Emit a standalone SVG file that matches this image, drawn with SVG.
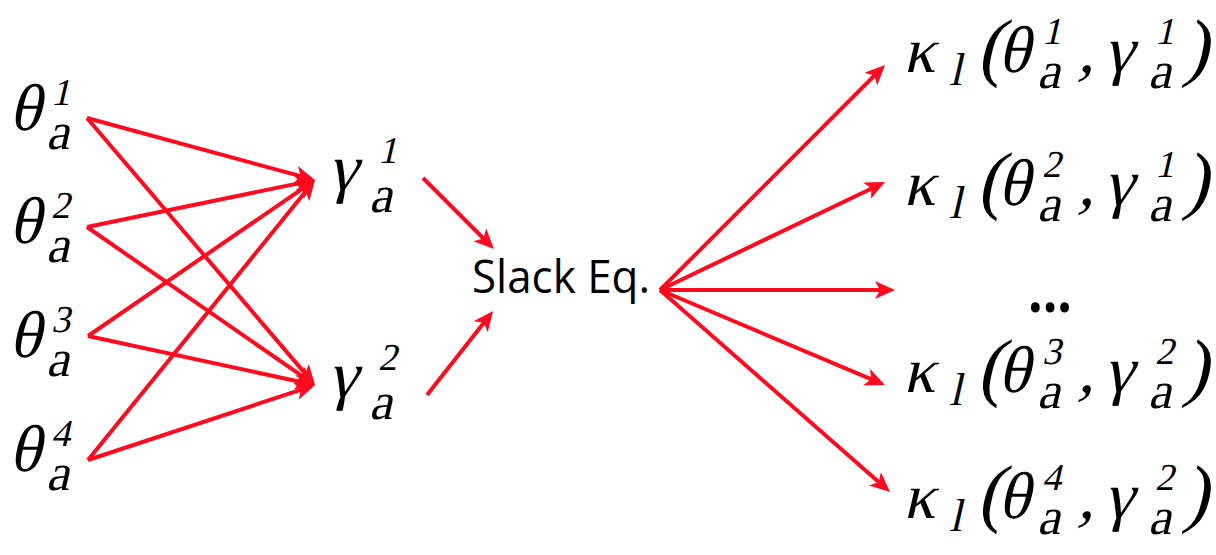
<svg xmlns="http://www.w3.org/2000/svg" width="1216" height="555" viewBox="0 0 1216 555">
<defs>
<marker id="ah" markerUnits="userSpaceOnUse" viewBox="0 0 20 18" markerWidth="20" markerHeight="18" refX="8" refY="9" orient="auto">
<path d="M0,0 L20,9 L0,18 L5,9 z" fill="#FF0A1E"/>
</marker>
<style>
.e{stroke:#FF0A1E;stroke-width:4;fill:none;marker-end:url(#ah)}
</style>
</defs>
<rect width="1216" height="555" fill="#fff"/>
<g id="connectors">
<line class="e" x1="87" y1="118" x2="303.4" y2="176.9"/>
<line class="e" x1="87" y1="118" x2="307.2" y2="375.9"/>
<line class="e" x1="87" y1="227" x2="303.3" y2="182.4"/>
<line class="e" x1="87" y1="227" x2="305.1" y2="378.2"/>
<line class="e" x1="88" y1="336" x2="305.1" y2="186.8"/>
<line class="e" x1="88" y1="336" x2="303.3" y2="382.5"/>
<line class="e" x1="88" y1="460" x2="307.4" y2="189.3"/>
<line class="e" x1="88" y1="460" x2="303.6" y2="388.8"/>
<line class="e" x1="423" y1="178" x2="485.5" y2="240.5"/>
<line class="e" x1="427" y1="395" x2="485.6" y2="320.4"/>
<line class="e" x1="660" y1="290" x2="876.5" y2="73.5"/>
<line class="e" x1="660" y1="290" x2="874.2" y2="187.2"/>
<line class="e" x1="660" y1="290" x2="883" y2="290"/>
<line class="e" x1="660" y1="290" x2="873.9" y2="380.3"/>
<line class="e" x1="660" y1="290" x2="881" y2="484.1"/>
</g>
<g id="theta1"><text style="font-family:'Liberation Serif'" fill="#000" transform="translate(9,130) skewX(-13)"><tspan font-size="66" x="0" y="0">θ</tspan><tspan font-size="38" x="36.2" y="-25">1</tspan><tspan font-size="52" x="41.4" y="19">a</tspan></text></g>
<g id="theta2"><text style="font-family:'Liberation Serif'" fill="#000" transform="translate(9,243) skewX(-13)"><tspan font-size="66" x="0" y="0">θ</tspan><tspan font-size="38" x="36.2" y="-25">2</tspan><tspan font-size="52" x="41.4" y="19">a</tspan></text></g>
<g id="theta3"><text style="font-family:'Liberation Serif'" fill="#000" transform="translate(9,357) skewX(-13)"><tspan font-size="66" x="0" y="0">θ</tspan><tspan font-size="38" x="36.2" y="-25">3</tspan><tspan font-size="52" x="41.4" y="19">a</tspan></text></g>
<g id="theta4"><text style="font-family:'Liberation Serif'" fill="#000" transform="translate(9,471) skewX(-13)"><tspan font-size="66" x="0" y="0">θ</tspan><tspan font-size="38" x="36.2" y="-25">4</tspan><tspan font-size="52" x="41.4" y="19">a</tspan></text></g>
<g id="gamma1"><text style="font-family:'Liberation Serif'" fill="#000" transform="translate(328,190) skewX(-13)"><tspan font-size="66" x="0" y="0">γ</tspan><tspan font-size="38" x="43.8" y="-27">1</tspan><tspan font-size="52" x="46.1" y="22">a</tspan></text></g>
<g id="gamma2"><text style="font-family:'Liberation Serif'" fill="#000" transform="translate(328,397) skewX(-13)"><tspan font-size="66" x="0" y="0">γ</tspan><tspan font-size="38" x="43.8" y="-27">2</tspan><tspan font-size="52" x="46.1" y="22">a</tspan></text></g>
<g id="slack"><text style="font-family:'Open Sans'" fill="#000" font-size="46" x="472" y="293" textLength="178" lengthAdjust="spacingAndGlyphs">Slack Eq.</text></g>
<g id="kappa1"><text style="font-family:'Liberation Serif'" fill="#000" transform="translate(903,72) skewX(-13)"><tspan font-size="64" x="0" y="0">κ</tspan><tspan font-size="46" x="49" y="13">l</tspan><tspan font-size="76" x="74" y="0">(</tspan><tspan font-size="66" x="95" y="0">θ</tspan><tspan font-size="38" x="132.5" y="-28">1</tspan><tspan font-size="52" x="137.7" y="16">a</tspan><tspan font-size="66" x="175" y="0">,</tspan><tspan font-size="66" x="201" y="0">γ</tspan><tspan font-size="38" x="245.5" y="-28">1</tspan><tspan font-size="52" x="248.7" y="16">a</tspan><tspan font-size="76" x="280" y="0">)</tspan></text></g>
<g id="kappa2"><text style="font-family:'Liberation Serif'" fill="#000" transform="translate(903,205) skewX(-13)"><tspan font-size="64" x="0" y="0">κ</tspan><tspan font-size="46" x="49" y="13">l</tspan><tspan font-size="76" x="74" y="0">(</tspan><tspan font-size="66" x="95" y="0">θ</tspan><tspan font-size="38" x="132.5" y="-28">2</tspan><tspan font-size="52" x="137.7" y="16">a</tspan><tspan font-size="66" x="175" y="0">,</tspan><tspan font-size="66" x="201" y="0">γ</tspan><tspan font-size="38" x="245.5" y="-28">1</tspan><tspan font-size="52" x="248.7" y="16">a</tspan><tspan font-size="76" x="280" y="0">)</tspan></text></g>
<g id="dots"><text style="font-family:'Open Sans'" fill="#000" font-weight="bold" font-size="60" x="1028" y="312" textLength="44" lengthAdjust="spacingAndGlyphs">...</text></g>
<g id="kappa3"><text style="font-family:'Liberation Serif'" fill="#000" transform="translate(903,392) skewX(-13)"><tspan font-size="64" x="0" y="0">κ</tspan><tspan font-size="46" x="49" y="13">l</tspan><tspan font-size="76" x="74" y="0">(</tspan><tspan font-size="66" x="95" y="0">θ</tspan><tspan font-size="38" x="132.5" y="-28">3</tspan><tspan font-size="52" x="137.7" y="16">a</tspan><tspan font-size="66" x="175" y="0">,</tspan><tspan font-size="66" x="201" y="0">γ</tspan><tspan font-size="38" x="245.5" y="-28">2</tspan><tspan font-size="52" x="248.7" y="16">a</tspan><tspan font-size="76" x="280" y="0">)</tspan></text></g>
<g id="kappa4"><text style="font-family:'Liberation Serif'" fill="#000" transform="translate(903,518) skewX(-13)"><tspan font-size="64" x="0" y="0">κ</tspan><tspan font-size="46" x="49" y="13">l</tspan><tspan font-size="76" x="74" y="0">(</tspan><tspan font-size="66" x="95" y="0">θ</tspan><tspan font-size="38" x="132.5" y="-28">4</tspan><tspan font-size="52" x="137.7" y="16">a</tspan><tspan font-size="66" x="175" y="0">,</tspan><tspan font-size="66" x="201" y="0">γ</tspan><tspan font-size="38" x="245.5" y="-28">2</tspan><tspan font-size="52" x="248.7" y="16">a</tspan><tspan font-size="76" x="280" y="0">)</tspan></text></g>
</svg>
